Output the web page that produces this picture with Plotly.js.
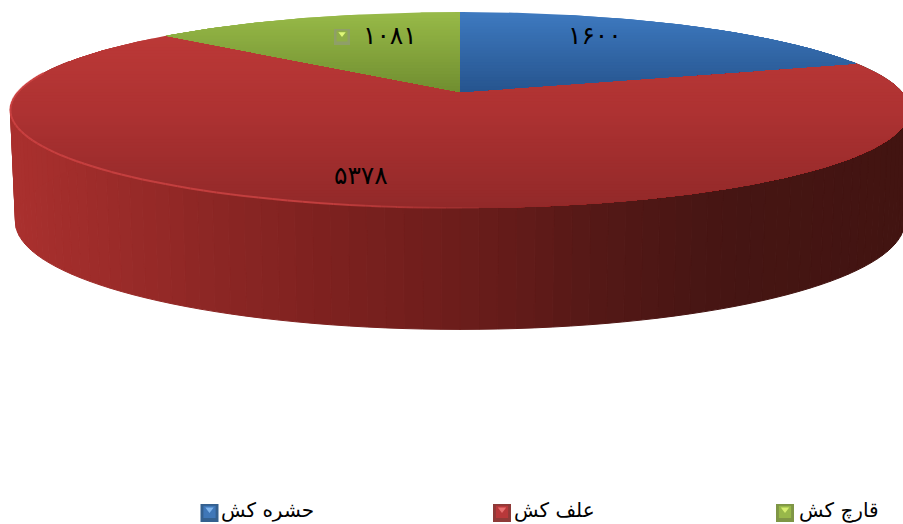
<!DOCTYPE html>
<html><head><meta charset="utf-8">
<script src="https://cdn.plot.ly/plotly-3.0.1.min.js"></script>
<style>html,body{margin:0;padding:0;background:#fff;overflow:hidden}</style>
</head><body><div id="c" style="width:903px;height:524px"></div>
<script>
const categories = ["حشره کش", "علف کش", "قارچ کش"];
const values = [1600, 5378, 1081];

const fa = n => String(n).replace(/\d/g, d => "۰۱۲۳۴۵۶۷۸۹"[d]);
const total = values.reduce((a, b) => a + b, 0);
const K = 0.1837;
function top_(t) { const u = Math.sin(t), v = Math.cos(t), w = 1 + K * v; return [460 + 442 * u / w, 92 - 94.7 * v / w]; }
function bot_(t) { const u = Math.sin(t), v = Math.cos(t), w = 1 + K * v; return [460 + 437 * u / w, 202 - 104 * v / w]; }
const rgb = c => `rgb(${c.map(Math.round).join(",")})`;
function ramp(stops, p) {
  if (p <= stops[0][0]) return stops[0][1];
  for (let i = 1; i < stops.length; i++) if (p <= stops[i][0]) {
    const f = (p - stops[i - 1][0]) / (stops[i][0] - stops[i - 1][0]);
    return stops[i - 1][1].map((a, j) => a + (stops[i][1][j] - a) * f);
  }
  return stops[stops.length - 1][1];
}
function clipY(poly, y) {
  const out = [], inside = p => p[1] >= y;
  for (let i = 0; i < poly.length; i++) {
    const a = poly[i], b = poly[(i + 1) % poly.length];
    if (inside(a)) out.push(a);
    if (inside(a) !== inside(b)) { const f = (y - a[1]) / (b[1] - a[1]); out.push([a[0] + (b[0] - a[0]) * f, y]); }
  }
  return out;
}
const traces = [];
function poly(p, color, lw) {
  if (p.length < 3) return;
  traces.push({ type: "scatter", mode: "lines", x: [...p.map(q => q[0]), p[0][0]], y: [...p.map(q => q[1]), p[0][1]],
    fill: "toself", fillcolor: color, line: { color: color, width: lw }, hoverinfo: "skip", showlegend: false });
}
// side wall
const sideStops = [[10, [170, 48, 46]], [200, [142, 39, 37]], [330, [125, 33, 31]], [460, [108, 29, 27]], [600, [84, 24, 22]], [720, [70, 21, 19]], [903, [66, 20, 17]]];
const N = 110, a0 = 70 * Math.PI / 180, a1 = 290 * Math.PI / 180;
for (let i = 0; i < N; i++) {
  const t1 = a0 + (a1 - a0) * i / N, t2 = a0 + (a1 - a0) * (i + 1) / N;
  const p = [top_(t1), top_(t2), bot_(t2), bot_(t1)];
  poly(p, rgb(ramp(sideStops, (p[0][0] + p[1][0]) / 2)), 1);
}
// top face slices: each band paints from its upper edge to the bottom of the slice, so no seams show
const faceStops = [
  [[12, [62, 122, 192]], [92, [38, 84, 142]]],
  [[20, [190, 58, 56]], [110, [174, 50, 50]], [208, [146, 41, 41]]],
  [[12, [152, 186, 72]], [92, [112, 142, 48]]]
];
const arcs = []; let acc = 0;
values.forEach(v => { arcs.push([acc / total * 2 * Math.PI, (acc + v) / total * 2 * Math.PI]); acc += v; });
[1, 0, 2].forEach(idx => {
  const [s, e] = arcs[idx], M = 180, pts = [[460, 92]];
  for (let i = 0; i <= M; i++) pts.push(top_(s + (e - s) * i / M));
  const ys = pts.map(p => p[1]), y0 = Math.min(...ys), y1 = Math.max(...ys);
  const B = Math.ceil((y1 - y0) / 3);
  for (let b = 0; b < B; b++) {
    const ya = y0 + (y1 - y0) * b / B;
    poly(b === 0 ? pts : clipY(pts, ya), rgb(ramp(faceStops[idx], ya + (y1 - y0) / B / 2)), 0);
  }
});
// bright rim along the front edge
const rimN = 60;
for (let i = 0; i < rimN; i++) {
  const t1 = (178 + (282 - 178) * i / rimN) * Math.PI / 180, t2 = (178 + (282 - 178) * (i + 1) / rimN) * Math.PI / 180;
  const p1 = top_(t1), p2 = top_(t2), mx = (p1[0] + p2[0]) / 2;
  const alpha = mx > 520 ? 0 : Math.min(0.7, (520 - mx) / 280);
  if (alpha <= 0) continue;
  traces.push({ type: "scatter", mode: "lines", x: [p1[0], p2[0]], y: [p1[1], p2[1]],
    line: { color: `rgba(214,72,72,${alpha})`, width: 2 }, hoverinfo: "skip", showlegend: false });
}
// legend keys
const keyColors = [["#34608f", "#3f77b8", "#7fb4ec"], ["#8f3a38", "#b8383a", "#e87070"], ["#7f9646", "#98b84a", "#d6ee70"]];
const keyX = [209.5, 502, 785];
const keyY = 513;
function key(x, y, size, c) {
  const mk = (yy, sym, sz, col) => traces.push({ type: "scatter", mode: "markers", x: [x], y: [yy], marker: { symbol: sym, size: sz, color: col, line: { width: 0 } }, hoverinfo: "skip", showlegend: false });
  mk(y, "square", size, c[0]);
  mk(y - size * 0.06, "square", size * 0.68, c[1]);
  mk(y - size * 0.2, "triangle-down", size * 0.4, c[2]);
}
keyX.forEach((x, i) => key(x, keyY, 18, keyColors[i]));
key(342, 37, 16, ["#8f9f68", "#8fae48", "#e0f878"]);

const fontF = '"DejaVu Sans", sans-serif';
const ann = (x, y, text, size) => ({ x, y, text, xref: "x", yref: "y", showarrow: false, font: { family: fontF, size: size, color: "#000" }, xanchor: "center", yanchor: "middle" });
const legendX = [267.5, 554, 838.5];
const labelPos = [[595, 35], [361, 175], [390, 35]];
const layout = {
  width: 903, height: 524, margin: { l: 0, r: 0, t: 0, b: 0 }, paper_bgcolor: "#fff", plot_bgcolor: "#fff", showlegend: false,
  xaxis: { range: [0, 903], visible: false, fixedrange: true },
  yaxis: { range: [524, 0], visible: false, fixedrange: true },
  annotations: [
    ...values.map((v, i) => ann(labelPos[i][0], labelPos[i][1], fa(v), 25)),
    ...categories.map((c, i) => ann(legendX[i], 510, c, 20))
  ]
};
Plotly.newPlot("c", traces, layout, { displayModeBar: false, staticPlot: true });
</script></body></html>
